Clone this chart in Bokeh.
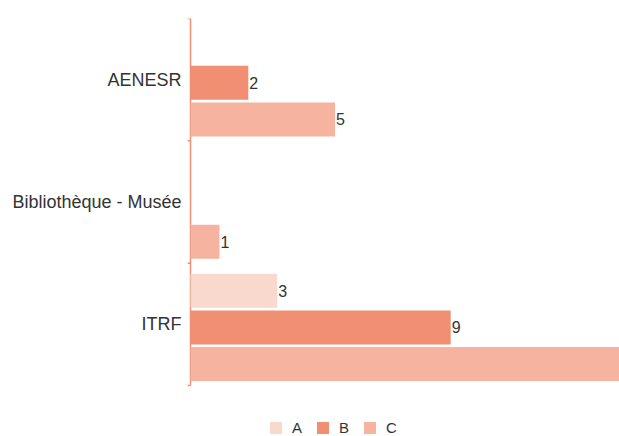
from bokeh.plotting import figure
from bokeh.models import (ColumnDataSource, Range1d, Legend, LegendItem, FixedTicker)
from bokeh.transform import dodge
from bokeh.core.properties import value
from bokeh.embed import file_html
from bokeh.resources import INLINE

categories = ["AENESR", "Bibliothèque - Musée", "ITRF"]
series_names = ["A", "B", "C"]
values_A = [None, None, 3]
values_B = [2, None, 9]
values_C = [5, 1, 15]
colors = ["#F9D8CE", "#F08F71", "#F5B3A0"]
offsets = [0.275, -0.025, -0.325]

FONT = "Liberation Sans"
TEXT = "#333333"
AXIS = "#F08F71"
X_START, X_END = -0.104, 14.84
N = len(categories)
# band i (from the top) spans [N-i-1, N-i]; its centre is N-i-0.5
centers = [N - i - 0.5 for i in range(N)]

p = figure(width=619, height=436, output_backend="svg", toolbar_location=None,
           y_range=Range1d(-0.417, N), x_range=Range1d(X_START, X_END))
p.min_border_left = 187
p.min_border_right = 0
p.min_border_top = 18
p.min_border_bottom = 0
p.outline_line_color = None
p.xgrid.visible = False
p.ygrid.visible = False
p.xaxis.visible = False

yax = p.yaxis[0]
yax.ticker = FixedTicker(ticks=centers)
yax.major_label_overrides = {c: name for c, name in zip(centers, categories)}
yax.major_tick_line_color = None
yax.minor_tick_line_color = None
yax.major_tick_out = 0
yax.major_tick_in = 0
yax.axis_line_color = None
yax.major_label_standoff = 6
yax.major_label_text_font = FONT
yax.major_label_text_font_size = "18px"
yax.major_label_text_color = TEXT

# axis line at zero and small ticks at the band boundaries
bounds = list(range(N + 1))
p.segment(x0=[0], x1=[0], y0=[0], y1=[N], line_color=AXIS, line_width=1.5, level="underlay")
p.segment(x0=X_START, x1=0, y0="b", y1="b", source=ColumnDataSource(dict(b=bounds)),
          line_color=AXIS, line_width=1.5)

items = []
for name, vals, col, off in zip(series_names, [values_A, values_B, values_C], colors, offsets):
    ys = [c for c, v in zip(centers, vals) if v is not None]
    vs = [v for v in vals if v is not None]
    src = ColumnDataSource(dict(yc=ys, val=vs))
    r = p.hbar(y=dodge("yc", off), left=0, right="val", height=0.278,
               source=src, fill_color=col, line_color=None)
    # value labels only where the bar end lies inside the visible range
    ly = [c for c, v in zip(ys, vs) if v < X_END - 0.5]
    lv = [v for v in vs if v < X_END - 0.5]
    lsrc = ColumnDataSource(dict(yc=ly, val=lv, label=[str(v) for v in lv]))
    p.text(x="val", y=dodge("yc", off), text="label", source=lsrc,
           x_offset=1, text_baseline="middle", text_align="left",
           text_font=value(FONT), text_font_size="16px", text_color=TEXT)
    items.append(LegendItem(label=name, renderers=[r]))

legend = Legend(items=items, orientation="horizontal", location=(81, 0))
legend.glyph_width = 15
legend.glyph_height = 15
legend.label_text_font = FONT
legend.label_text_font_size = "15px"
legend.label_text_color = TEXT
legend.label_standoff = 9
legend.spacing = 3
legend.padding = 0
legend.margin = 0
legend.border_line_color = None
legend.background_fill_alpha = 0
p.add_layout(legend, "center")

open("out.html", "w").write(file_html(p, INLINE))
